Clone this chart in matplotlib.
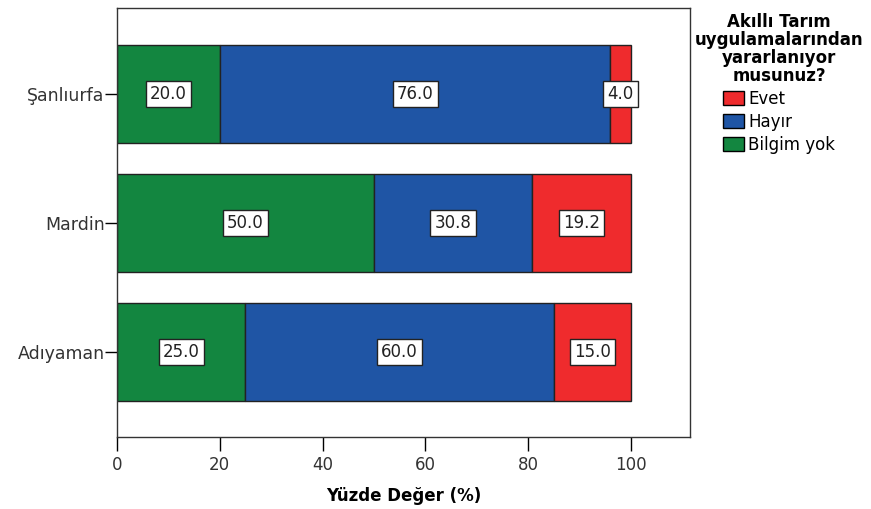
import matplotlib.pyplot as plt
from matplotlib.patches import Patch

plt.rcParams['font.family'] = ['DejaVu Sans']

cities = ['Şanlıurfa', 'Mardin', 'Adıyaman']
bilgim_yok = [20.0, 50.0, 25.0]
hayir = [76.0, 30.8, 60.0]
evet = [4.0, 19.2, 15.0]
xticks = [0, 20, 40, 60, 80, 100]

green = '#138640'
blue = '#1f55a5'
red = '#ef2b2d'

fig = plt.figure(figsize=(8.71, 5.09), dpi=100)
ax = fig.add_axes([117/871, 1-437/509, (690-117)/871, (437-8)/509])

ypos = [2, 1, 0]
h = 0.76
left2 = [a for a in bilgim_yok]
left3 = [a + b for a, b in zip(bilgim_yok, hayir)]
ax.barh(ypos, bilgim_yok, height=h, color=green, edgecolor='#222222', linewidth=1)
ax.barh(ypos, hayir, left=left2, height=h, color=blue, edgecolor='#222222', linewidth=1)
ax.barh(ypos, evet, left=left3, height=h, color=red, edgecolor='#222222', linewidth=1)

box = dict(boxstyle='square,pad=0.25', fc='white', ec='#222222', lw=1)
for i, y in enumerate(ypos):
    segs = [(0, bilgim_yok[i]), (left2[i], hayir[i]), (left3[i], evet[i])]
    for start, w in segs:
        ax.text(start + w/2, y, f'{w:.1f}', ha='center', va='center',
                fontsize=12, color='#222222', bbox=box)

ax.set_xlim(0, 111.5)
ax.set_ylim(-0.66, 2.67)
ax.set_xticks(xticks)
ax.set_yticks(ypos)
ax.set_yticklabels(cities)
ax.tick_params(axis='x', direction='out', length=10, width=1, labelsize=12,
               labelcolor='#333333', pad=4)
ax.tick_params(axis='y', direction='out', length=9, width=1, labelsize=12.5,
               labelcolor='#333333', pad=0)
for s in ax.spines.values():
    s.set_linewidth(1)
    s.set_color('#333333')
ax.set_xlabel('Yüzde Değer (%)', fontsize=12, fontweight='bold', labelpad=9)

handles = [Patch(facecolor=red, edgecolor='black', label='Evet'),
           Patch(facecolor=blue, edgecolor='black', label='Hayır'),
           Patch(facecolor=green, edgecolor='black', label='Bilgim yok')]
leg = fig.legend(handles=handles,
                 title='Akıllı Tarım\nuygulamalarından\nyararlanıyor\nmusunuz?',
                 title_fontproperties={'weight': 'bold', 'size': 12},
                 loc='upper left', bbox_to_anchor=(683/871, 1-1/509),
                 frameon=False, fontsize=12, alignment='center',
                 handlelength=1.3, handleheight=1.0, handletextpad=0.25,
                 labelspacing=0.3, borderpad=0.2)
leg.get_title().set_multialignment('center')
leg.get_title().set_linespacing(1.0)

fig.savefig('out.png', dpi=100)
